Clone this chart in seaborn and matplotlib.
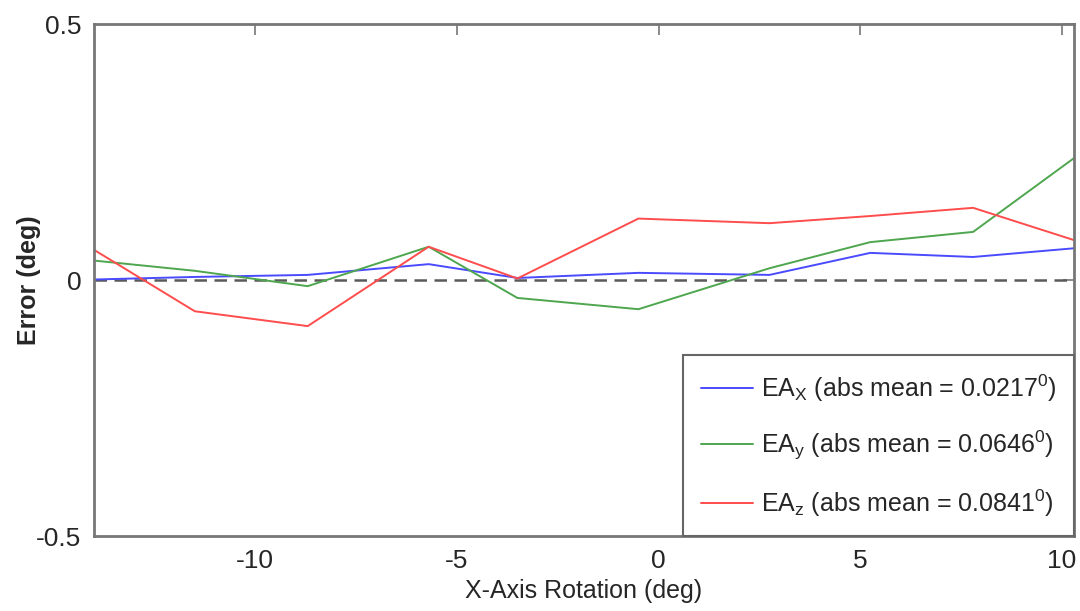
import pandas as pd
import matplotlib
matplotlib.use('Agg')
import matplotlib.pyplot as plt
import seaborn as sns

# rotation angles (deg) and errors
rotation = [-14.0, -11.5, -8.7, -5.7, -3.5, -0.5, 2.75, 5.25, 7.8, 10.3]
err_x = [0.001, 0.006, 0.010, 0.031, 0.004, 0.014, 0.010, 0.053, 0.045, 0.062]
err_y = [0.038, 0.018, -0.012, 0.065, -0.035, -0.057, 0.023, 0.074, 0.094, 0.238]
err_z = [0.059, -0.061, -0.090, 0.065, 0.003, 0.120, 0.111, 0.125, 0.141, 0.078]

labels = [r'EA$_X$ (abs mean = 0.0217$^0$)',
          r'EA$_y$ (abs mean = 0.0646$^0$)',
          r'EA$_z$ (abs mean = 0.0841$^0$)']
colors = ['#4a4aff', '#4ea64e', '#ff4c4c']

df = pd.DataFrame({
    'rot': rotation * 3,
    'err': err_x + err_y + err_z,
    'serie': [labels[0]] * len(rotation) + [labels[1]] * len(rotation) + [labels[2]] * len(rotation),
})

sns.set_style('white')
plt.rcParams['font.family'] = ['Liberation Sans', 'DejaVu Sans']
plt.rcParams['mathtext.default'] = 'regular'

fig = plt.figure(figsize=(10.8, 6.11), dpi=100)
ax = fig.add_axes([0.087, 0.1227, 0.9074, 0.838])

sns.lineplot(data=df, x='rot', y='err', hue='serie', palette=colors,
             linewidth=1.4, ax=ax, legend=True)
ax.axhline(0, color='#5a5a5a', linestyle=(0, (5, 3)), linewidth=1.8, zorder=1)

ax.set_xlim(-14, 10.3)
ax.set_ylim(-0.5, 0.5)
ax.set_xticks([-10, -5, 0, 5, 10])
ax.set_yticks([-0.5, 0, 0.5])
ax.set_yticklabels(['-0.5', '0', '0.5'])
ax.set_xticklabels(['-10', '-5', '0', '5', '10'])
ax.tick_params(direction='in', length=8, width=1.2, color='#777777',
               top=True, right=True, labelsize=19, pad=9)
for s in ax.spines.values():
    s.set_color('#777777')
    s.set_linewidth(2)

ax.set_xlabel('X-Axis Rotation (deg)', fontsize=18, labelpad=5)
ax.set_ylabel('Error (deg)', fontsize=18, fontweight='bold')
ax.yaxis.set_label_coords(-0.054, 0.5)

leg = ax.legend(loc='lower right', borderaxespad=0, fontsize=18,
                handlelength=2.1, fancybox=False, framealpha=1,
                edgecolor='#666666', labelspacing=1.0, borderpad=0.7,
                handletextpad=0.3)
leg.get_frame().set_linewidth(1.5)
for h in leg.get_lines():
    h.set_linewidth(1.4)

plt.savefig('out.png', dpi=100)
